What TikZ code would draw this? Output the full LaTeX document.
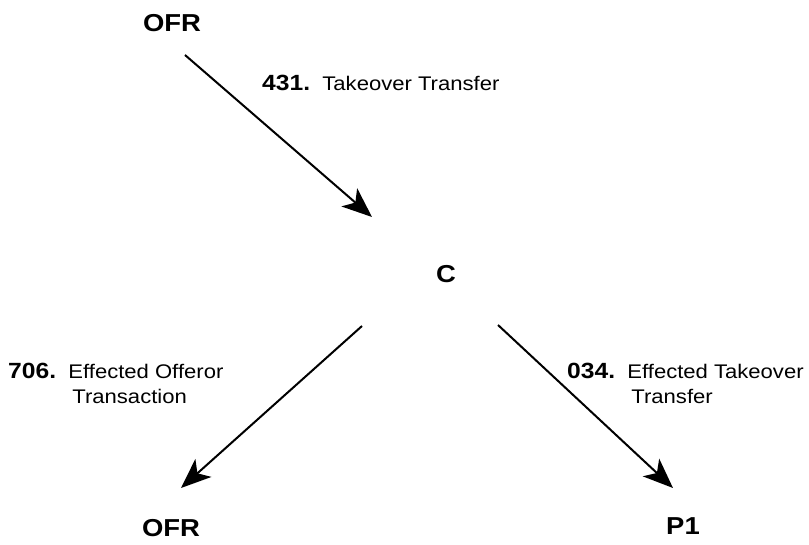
\documentclass[tikz,border=0pt]{standalone}
\usepackage{fontspec}
\setmainfont{Liberation Sans}[FakeStretch=1.12]
\usetikzlibrary{arrows.meta}
\newcommand{\flownum}[1]{{\fontsize{22}{25}\selectfont\bfseries #1}}
\tikzset{
  party/.style={inner sep=0pt, font=\fontsize{24.5}{28}\selectfont\bfseries},
  flowlabel/.style={inner sep=0pt, font=\fontsize{19.7}{25}\selectfont, align=left},
  flow/.style={line width=2pt, -{Stealth[length=30pt, width=24pt, inset=8pt]}}
}
\begin{document}
\begin{tikzpicture}[x=1pt, y=-1pt]
  \useasboundingbox (0,0) rectangle (809,545);

  % parties
  \node[party] (ofrT) at (172,23) {OFR};
  \node[party] (c)    at (446,274) {C};
  \node[party] (ofrB) at (171,528) {OFR};
  \node[party] (p1)   at (683,526) {P1};

  % connector end points
  \coordinate (a1s) at (185,55);
  \coordinate (a1e) at (372,217);
  \coordinate (a2s) at (362,326);
  \coordinate (a2e) at (181,488);
  \coordinate (a3s) at (498,325);
  \coordinate (a3e) at (673,488);

  % flows
  \draw[flow] (a1s) -- (a1e);
  \draw[flow] (a2s) -- (a2e);
  \draw[flow] (a3s) -- (a3e);

  % flow labels
  \node[flowlabel, anchor=west] (l1) at (262,83)
    {\flownum{431.}\ \ Takeover Transfer};
  \node[flowlabel, anchor=north west] (l2) at (8,361)
    {\begin{tabular}{@{}l@{\ \ }l@{}}\flownum{706.} & Effected Offeror\\ & \hspace{4pt}Transaction\end{tabular}};
  \node[flowlabel, anchor=north west] (l3) at (567,361)
    {\begin{tabular}{@{}l@{\ \ }l@{}}\flownum{034.} & Effected Takeover\\ & \hspace{4pt}Transfer\end{tabular}};
\end{tikzpicture}
\end{document}
